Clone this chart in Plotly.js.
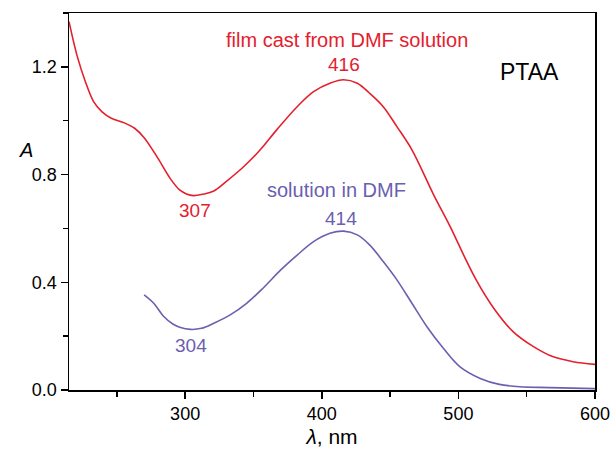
<!DOCTYPE html>
<html>
<head>
<meta charset="utf-8">
<script src="https://cdn.plot.ly/plotly-3.0.1.min.js"></script>
<style>html,body{margin:0;padding:0;background:#fff;}#chart{width:612px;height:449px;}</style>
</head>
<body>
<div id="chart"></div>
<script>
const filmX = [215, 221, 227, 233, 239, 246, 256, 263, 270, 280, 289, 296, 301, 306, 313, 321, 330, 343, 355, 367, 382, 394, 406, 416, 426, 435, 445, 455, 466, 482, 494, 505, 513, 526, 540, 555, 569, 584, 600];
const filmY = [1.368, 1.240, 1.145, 1.071, 1.034, 1.009, 0.991, 0.972, 0.937, 0.861, 0.786, 0.743, 0.728, 0.722, 0.727, 0.739, 0.774, 0.830, 0.892, 0.966, 1.052, 1.108, 1.139, 1.152, 1.139, 1.102, 1.052, 0.978, 0.892, 0.724, 0.607, 0.489, 0.409, 0.303, 0.217, 0.161, 0.124, 0.105, 0.095];
const solX = [270, 277, 284, 291, 296, 304, 312, 321, 333, 345, 357, 370, 382, 394, 406, 416, 426, 435, 445, 455, 466, 477, 489, 501, 516, 530, 545, 567, 600];
const solY = [0.353, 0.322, 0.275, 0.245, 0.233, 0.225, 0.229, 0.248, 0.279, 0.322, 0.378, 0.446, 0.501, 0.551, 0.582, 0.590, 0.576, 0.539, 0.477, 0.409, 0.322, 0.235, 0.155, 0.087, 0.043, 0.021, 0.012, 0.009, 0.005];
const filmLabel = "film cast from DMF solution";
const solLabel = "solution in DMF";
const peakLabels = [
  {x: 416, y: 1.207, text: "416", series: "film"},
  {x: 307, y: 0.666, text: "307", series: "film"},
  {x: 414, y: 0.638, text: "414", series: "sol"},
  {x: 304, y: 0.167, text: "304", series: "sol"}
];
const sampleName = "PTAA";

const RED = '#e4202e', PURPLE = '#6a60b0';
const FONT = 'Liberation Sans, Arial, sans-serif';

const traces = [
  {x: filmX, y: filmY, mode: 'lines', line: {color: RED, width: 1.6, shape: 'spline', smoothing: 1.0}, hoverinfo: 'none'},
  {x: solX, y: solY, mode: 'lines', line: {color: PURPLE, width: 1.6, shape: 'spline', smoothing: 1.0}, hoverinfo: 'none'}
];

const annotations = [
  {x: 418.5, y: 1.30, xref: 'x', yref: 'y', text: filmLabel, showarrow: false, font: {family: FONT, size: 20, color: RED}},
  {x: 411, y: 0.743, xref: 'x', yref: 'y', text: solLabel, showarrow: false, font: {family: FONT, size: 20, color: PURPLE}},
  {x: 552, y: 1.18, xref: 'x', yref: 'y', text: sampleName, showarrow: false, font: {family: FONT, size: 23, color: '#000'}},
  {x: (17 - 69) / (595 - 69), y: (390 - 137) / (390 - 13), xref: 'paper', yref: 'paper', text: '<i>A</i>', showarrow: false,
   font: {family: FONT, size: 20, color: '#000'}}
];
peakLabels.forEach(p => annotations.push({x: p.x, y: p.y, xref: 'x', yref: 'y', text: p.text, showarrow: false,
  font: {family: FONT, size: 19, color: p.series === 'film' ? RED : PURPLE}}));

const layout = {
  width: 612, height: 449,
  margin: {l: 69, r: 17, t: 13, b: 59},
  paper_bgcolor: '#fff', plot_bgcolor: '#fff',
  showlegend: false,
  font: {family: FONT, size: 18, color: '#000'},
  xaxis: {
    range: [215, 600], showgrid: false, zeroline: false,
    showline: true, mirror: true, linecolor: '#000', linewidth: 1.5,
    ticks: 'outside', ticklen: 7, tickwidth: 1.5, tickcolor: '#000',
    dtick: 100, tick0: 0,
    minor: {dtick: 50, ticks: 'outside', ticklen: 5, tickwidth: 1.5, tickcolor: '#000', showgrid: false},
    tickfont: {family: FONT, size: 18},
    title: {text: '<i>λ</i>, nm', font: {family: FONT, size: 21}, standoff: 6}
  },
  yaxis: {
    range: [0, 1.40], showgrid: false, zeroline: false,
    showline: true, mirror: true, linecolor: '#000', linewidth: 1.5,
    ticks: 'outside', ticklen: 7, tickwidth: 1.5, tickcolor: '#000',
    dtick: 0.4, tick0: 0, tickformat: '.1f',
    minor: {dtick: 0.2, ticks: 'outside', ticklen: 5, tickwidth: 1.5, tickcolor: '#000', showgrid: false},
    tickfont: {family: FONT, size: 18}
  },
  annotations: annotations
};

Plotly.newPlot('chart', traces, layout, {staticPlot: true, displayModeBar: false});
</script>
</body>
</html>
